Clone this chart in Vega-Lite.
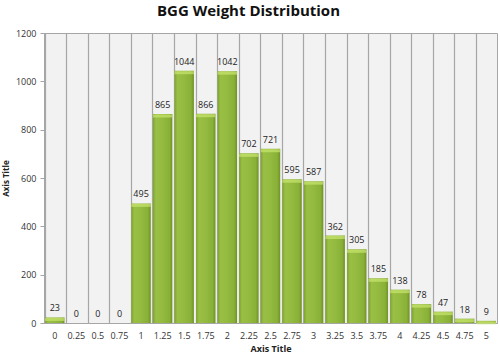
{
  "$schema": "https://vega.github.io/schema/vega-lite/v6.json",
  "width": 453,
  "height": 290,
  "autosize": {"type": "none"},
  "padding": {"left": 44, "top": 33, "right": 3, "bottom": 35},
  "background": "white",
  "config": {
    "font": "Open Sans",
    "view": {"fill": "#f2f2f2", "stroke": "#a6a6a6", "strokeWidth": 1},
    "axis": {"labelFont": "Open Sans", "titleFont": "Open Sans", "labelColor": "#333333", "titleColor": "#222222"}
  },
  "title": {
    "text": "BGG Weight Distribution",
    "fontSize": 15,
    "fontWeight": "bold",
    "font": "Open Sans",
    "color": "#111111",
    "anchor": "middle",
    "dx": -22,
    "offset": 10
  },
  "data": {
    "values": [
      {"weight": "0", "count": 23},
      {"weight": "0.25", "count": 0},
      {"weight": "0.5", "count": 0},
      {"weight": "0.75", "count": 0},
      {"weight": "1", "count": 495},
      {"weight": "1.25", "count": 865},
      {"weight": "1.5", "count": 1044},
      {"weight": "1.75", "count": 866},
      {"weight": "2", "count": 1042},
      {"weight": "2.25", "count": 702},
      {"weight": "2.5", "count": 721},
      {"weight": "2.75", "count": 595},
      {"weight": "3", "count": 587},
      {"weight": "3.25", "count": 362},
      {"weight": "3.5", "count": 305},
      {"weight": "3.75", "count": 185},
      {"weight": "4", "count": 138},
      {"weight": "4.25", "count": 78},
      {"weight": "4.5", "count": 47},
      {"weight": "4.75", "count": 18},
      {"weight": "5", "count": 9}
    ]
  },
  "encoding": {
    "x": {
      "field": "weight",
      "type": "ordinal",
      "sort": null,
      "scale": {"paddingInner": 0.1, "paddingOuter": 0.05},
      "axis": {
        "title": "Axis Title",
        "titleFontSize": 9,
        "titleFontWeight": "bold",
        "titlePadding": 4,
        "labelAngle": 0,
        "labelFontSize": 9,
        "labelPadding": 8,
        "ticks": false,
        "grid": true,
        "gridColor": "#a6a6a6",
        "gridWidth": 1.2,
        "bandPosition": 0,
        "domainColor": "#a6a6a6"
      }
    },
    "y": {
      "field": "count",
      "type": "quantitative",
      "scale": {"domain": [0, 1200]},
      "axis": {
        "title": "Axis Title",
        "titleFontSize": 8,
        "titleFontWeight": "bold",
        "titlePadding": 5,
        "format": "d",
        "values": [0, 200, 400, 600, 800, 1000, 1200],
        "labelFontSize": 9,
        "labelPadding": 4,
        "grid": false,
        "tickColor": "#a6a6a6",
        "tickSize": 4,
        "domainColor": "#a6a6a6"
      }
    }
  },
  "layer": [
    {
      "mark": {
        "type": "bar",
        "color": {
          "gradient": "linear",
          "x1": 0, "x2": 1, "y1": 0, "y2": 0,
          "stops": [
            {"offset": 0, "color": "#7fa32e"},
            {"offset": 0.15, "color": "#99c044"},
            {"offset": 0.5, "color": "#94bb40"},
            {"offset": 0.85, "color": "#89b037"},
            {"offset": 1, "color": "#6f9226"}
          ]
        }
      }
    },
    {
      "mark": {"type": "tick", "color": "#c9e56f", "thickness": 3, "orient": "horizontal", "yOffset": 2},
      "encoding": {"y": {"field": "count", "type": "quantitative"}},
      "transform": [{"filter": "datum.count > 0"}]
    },
    {
      "mark": {"type": "text", "dy": -9, "fontSize": 9, "color": "#222222", "font": "Open Sans"},
      "encoding": {"text": {"field": "count", "type": "quantitative"}}
    }
  ]
}
